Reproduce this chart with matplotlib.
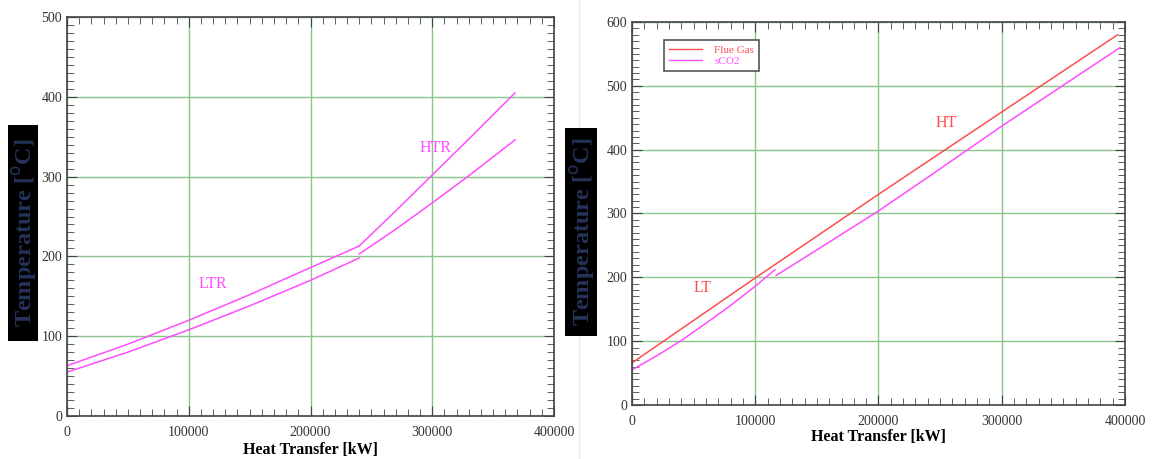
import matplotlib
matplotlib.use("Agg")
import matplotlib.pyplot as plt
from matplotlib.patches import Rectangle
from matplotlib.lines import Line2D
from matplotlib.ticker import MultipleLocator

plt.rcParams['font.family'] = ['Liberation Serif', 'DejaVu Serif']

# left panel: recuperators (LTR / HTR)
ltr_hot_q = [0, 50000, 100000, 150000, 200000, 240000]
ltr_hot_t = [63, 90, 120, 152, 186, 213]
ltr_cold_q = [0, 50000, 100000, 150000, 200000, 240000]
ltr_cold_t = [55, 80, 108, 138, 170, 198]
htr_hot_q = [240000, 270000, 300000, 330000, 368000]
htr_hot_t = [213, 257, 302, 347, 405]
htr_cold_q = [240000, 270000, 300000, 330000, 368000]
htr_cold_t = [203, 234, 267, 301, 346]

# right panel: flue gas heater (LT / HT)
flue_q = [0, 100000, 200000, 300000, 394000]
flue_t = [66, 199, 330, 459, 580]
lt_q = [0, 20000, 40000, 60000, 80000, 100000, 116000]
lt_t = [55, 77, 101, 128, 156, 186, 212]
ht_q = [117000, 150000, 200000, 250000, 300000, 396000]
ht_t = [203, 243, 304, 370, 437, 560]

MAGENTA = "#ff4dff"
RED = "#ff4d4d"
GRID = "#8cc58c"
W, H = 1157, 459

fig = plt.figure(figsize=(W / 100, H / 100), dpi=100)


def style(ax, ymax, ystep, lpad):
    ax.set_xlim(0, 400000)
    ax.set_ylim(0, ymax)
    ax.xaxis.set_major_locator(MultipleLocator(100000))
    ax.xaxis.set_minor_locator(MultipleLocator(10000))
    ax.yaxis.set_major_locator(MultipleLocator(ystep))
    ax.yaxis.set_minor_locator(MultipleLocator(10))
    ax.grid(True, which="major", color=GRID, lw=1.0)
    ax.tick_params(which="both", direction="in", top=True, right=True,
                   color="#444444", labelsize=10, labelcolor="#333333")
    ax.tick_params(axis="x", pad=7)
    ax.tick_params(which="major", length=7, width=0.8)
    ax.tick_params(which="minor", length=5, width=0.6)
    for s in ax.spines.values():
        s.set_color("#444444")
        s.set_linewidth(1.2)
    ax.set_xlabel("Heat Transfer [kW]", fontsize=11.5, fontweight="bold", labelpad=lpad)
    ax.set_axisbelow(True)


ax1 = fig.add_axes([67 / W, 1 - 416 / H, (554 - 67) / W, (416 - 17) / H])
style(ax1, 500, 100, 2)
ax1.plot(ltr_hot_q, ltr_hot_t, color=MAGENTA, lw=1.1)
ax1.plot(ltr_cold_q, ltr_cold_t, color=MAGENTA, lw=1.1)
ax1.plot(htr_hot_q, htr_hot_t, color=MAGENTA, lw=1.1)
ax1.plot(htr_cold_q, htr_cold_t, color=MAGENTA, lw=1.1)
ax1.text(120000, 165, "LTR", color=MAGENTA, fontsize=11.5, ha="center", va="center")
ax1.text(303000, 336, "HTR", color=MAGENTA, fontsize=11.5, ha="center", va="center")

ax2 = fig.add_axes([632 / W, 1 - 405 / H, (1125 - 632) / W, (405 - 22) / H])
style(ax2, 600, 100, 1)
ax2.plot(flue_q, flue_t, color=RED, lw=1.1)
ax2.plot(lt_q, lt_t, color=MAGENTA, lw=1.1)
ax2.plot(ht_q, ht_t, color=MAGENTA, lw=1.1)
ax2.text(57000, 184, "LT", color=RED, fontsize=11.5, ha="center", va="center")
ax2.text(255000, 442, "HT", color=RED, fontsize=11.5, ha="center", va="center")

handles = [Line2D([], [], color=RED, lw=1.0), Line2D([], [], color=MAGENTA, lw=1.0)]
leg = ax2.legend(handles, ["Flue Gas", "sCO2"], loc="upper left",
                 bbox_to_anchor=(0.064, 0.953), fontsize=8, handlelength=3.0,
                 handletextpad=1.1, labelcolor=[RED, MAGENTA], fancybox=False,
                 borderpad=0.45, labelspacing=0.15, framealpha=1, borderaxespad=0)
leg.get_frame().set_edgecolor("#555555")
leg.get_frame().set_linewidth(1.2)

# faint separator between the two pictures
fig.add_artist(Line2D([579 / W, 579 / W], [0, 1], color="#e8e8e8", lw=1,
                      transform=fig.transFigure, zorder=-5))

# black y-label boxes
for x0, y0, x1, y1 in [(8, 125, 38, 341), (565, 128, 597, 336)]:
    fig.add_artist(Rectangle((x0 / W, 1 - y1 / H), (x1 - x0) / W, (y1 - y0) / H,
                             transform=fig.transFigure, facecolor="black",
                             edgecolor="none", zorder=1))
    fig.text((x0 + x1) / 2 / W + 0.001, 1 - (y0 + y1) / 2 / H, r"Temperature [$^{\mathrm{o}}$C]",
             rotation=90, ha="center", va="center", fontsize=17.5,
             color="#25335a", fontweight="bold", zorder=2)

fig.savefig("out.png", dpi=100)
